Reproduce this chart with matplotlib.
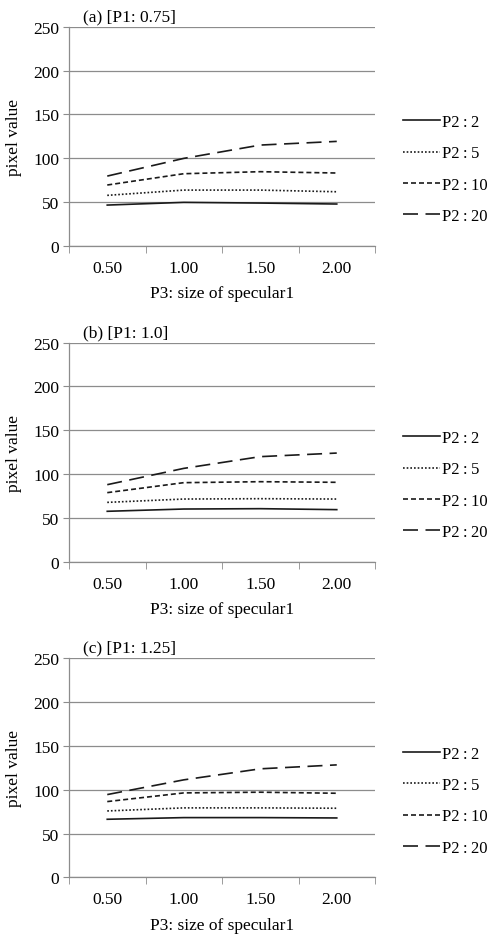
import numpy as np
import matplotlib
matplotlib.use("Agg")
import matplotlib.pyplot as plt

plt.rcParams['font.family'] = ['Liberation Serif', 'DejaVu Serif']

# --- data ---
sizes = ["0.50", "1.00", "1.50", "2.00"]
panel_titles = ["(a) [P1: 0.75]", "(b) [P1: 1.0]", "(c) [P1: 1.25]"]
series_labels = ["P2\u2009:\u20092", "P2\u2009:\u20095", "P2\u2009:\u200910", "P2\u2009:\u200920"]

# P1 = 0.75
a_p2_2 = [46.4, 49.5, 48.7, 47.6]
a_p2_5 = [57.5, 63.5, 63.5, 61.6]
a_p2_10 = [69.3, 82.2, 84.5, 83.0]
a_p2_20 = [79.5, 99.7, 114.9, 119.1]
# P1 = 1.0
b_p2_2 = [57.5, 60.1, 60.5, 59.4]
b_p2_5 = [67.7, 71.5, 71.9, 71.5]
b_p2_10 = [78.8, 90.2, 91.3, 90.6]
b_p2_20 = [87.9, 106.5, 119.9, 124.0]
# P1 = 1.25
c_p2_2 = [66.3, 68.2, 68.2, 67.8]
c_p2_5 = [75.8, 79.3, 79.3, 78.9]
c_p2_10 = [86.5, 96.4, 97.2, 96.0]
c_p2_20 = [94.5, 111.3, 123.9, 128.4]

panels = [
    [a_p2_2, a_p2_5, a_p2_10, a_p2_20],
    [b_p2_2, b_p2_5, b_p2_10, b_p2_20],
    [c_p2_2, c_p2_5, c_p2_10, c_p2_20],
]

styles = ['-', (0, (1, 1.2)), (0, (3, 1.8)), (0, (9, 4.5))]
grey = '#8c8c8c'
ink = '#1a1a1a'
fs = 12.5

fig = plt.figure(figsize=(4.89, 9.37), dpi=100)
bottoms = [0.7367, 0.3995, 0.0626]

x = np.arange(len(sizes))
for title, data, bot in zip(panel_titles, panels, bottoms):
    ax = fig.add_axes([0.1411, bot, 0.6258, 0.2337])
    for vals, ls, lab in zip(data, styles, series_labels):
        ax.plot(x, vals, color=ink, lw=1.2, linestyle=ls, label=lab)

    ax.set_xlim(-0.5, len(sizes) - 0.5)
    ax.set_ylim(0, 250)
    ax.set_yticks(np.arange(0, 251, 50))
    ax.set_xticks(x)
    ax.set_xticklabels(sizes, fontsize=fs)
    ax.set_xticks(np.arange(-0.5, len(sizes)), minor=True)
    ax.tick_params(axis='x', which='major', length=0, pad=10)
    ax.tick_params(axis='x', which='minor', length=5, color=grey, direction='out')
    ax.tick_params(axis='y', length=4, color=grey, pad=3, labelsize=fs)

    ax.grid(axis='y', color=grey, lw=0.9)
    ax.set_axisbelow(True)
    for s in ['top', 'right']:
        ax.spines[s].set_visible(False)
    for s in ['left', 'bottom']:
        ax.spines[s].set_color(grey)
        ax.spines[s].set_linewidth(0.9)

    ax.set_xlabel("P3: size of specular1", fontsize=fs, labelpad=7)
    ax.set_ylabel("pixel value", fontsize=fs)
    ax.yaxis.set_label_coords(-0.155, 0.5)
    ax.text(0.046, 1.03, title, transform=ax.transAxes, fontsize=fs,
            ha='left', va='baseline')

    ax.legend(loc='center left', bbox_to_anchor=(1.0915, 0.35), frameon=False,
              fontsize=12, handlelength=2.2, handletextpad=0.12,
              labelspacing=0.92, borderaxespad=0, borderpad=0)

fig.savefig("out.png", dpi=100)
